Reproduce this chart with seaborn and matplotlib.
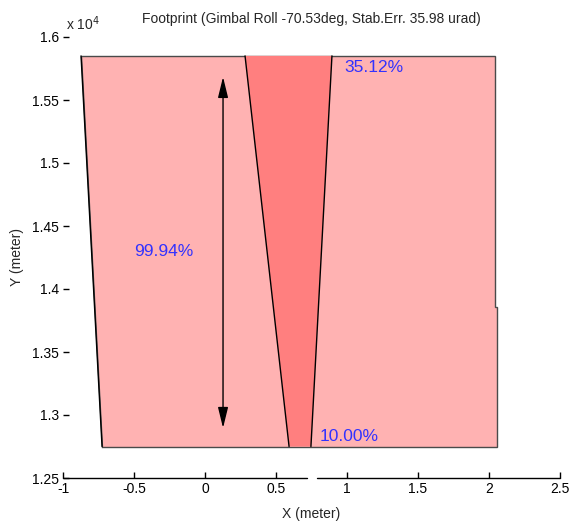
import matplotlib
matplotlib.use("Agg")
import matplotlib.pyplot as plt
import seaborn as sns
from matplotlib.ticker import FuncFormatter

sns.set_style("white")
plt.rcParams["font.family"] = ["Liberation Sans", "DejaVu Sans"]
plt.rcParams["xtick.direction"] = "in"
plt.rcParams["ytick.direction"] = "in"
plt.rcParams["xtick.bottom"] = True
plt.rcParams["ytick.left"] = True

# Footprint outline (X in meters, Y in meters)
footprint_x = [-0.873, 2.042, 2.042, 2.056, 2.056, -0.725]
footprint_y = [15850, 15850, 13857, 13857, 12750, 12750]

# Stabilisation-error band inside the footprint
band_x = [0.282, 0.894, 0.746, 0.592]
band_y = [15850, 15850, 12750, 12750]

# Dimension arrow spanning the footprint height
arrow_x = 0.127
arrow_y = [12897, 15683]

# Percent annotations: (x, y, text, horizontal alignment)
labels_x = [0.979, 0.81, -0.289]
labels_y = [15754, 12833, 14294]
labels_text = ["35.12%", "10.00%", "99.94%"]
labels_ha = ["left", "left", "center"]

x_ticks = [-1, -0.5, 0, 0.5, 1, 1.5, 2, 2.5]
y_ticks = [12500, 13000, 13500, 14000, 14500, 15000, 15500, 16000]

fig = plt.figure(figsize=(5.69, 5.24), dpi=100)
ax = fig.add_axes([63 / 569, 46 / 524, 497 / 569, 441 / 524])

ax.fill(footprint_x, footprint_y, facecolor="#FFB2B2", edgecolor="#4a4a4a", linewidth=1.0)
ax.fill(band_x, band_y, facecolor="#FF7F7F", edgecolor="none")
ax.plot([band_x[0], band_x[3]], [band_y[0], band_y[3]], color="black", linewidth=1.0)
ax.plot([band_x[1], band_x[2]], [band_y[1], band_y[2]], color="black", linewidth=1.0)
ax.plot(footprint_x[:1] + footprint_x[-1:], footprint_y[:1] + footprint_y[-1:], color="black", linewidth=1.0)

ax.annotate("", xy=(arrow_x, arrow_y[1]), xytext=(arrow_x, arrow_y[0]),
            arrowprops=dict(arrowstyle="<|-|>,head_length=0.9,head_width=0.22", color="black", lw=1.0,
                            mutation_scale=14, shrinkA=0, shrinkB=0))

for lx, ly, txt, ha in zip(labels_x, labels_y, labels_text, labels_ha):
    ax.text(lx, ly, txt, color="#3232FF", fontsize=12.5, ha=ha, va="center")

ax.set_xlim(-1, 2.5)
ax.set_ylim(12500, 16000)
ax.set_xticks(x_ticks)
ax.set_yticks(y_ticks)
ax.set_xticklabels([f"{t:g}" for t in x_ticks])
ax.yaxis.set_major_formatter(FuncFormatter(lambda v, p: f"{v / 1e4:g}"))

for side in ["top", "right", "left", "bottom"]:
    ax.spines[side].set_visible(False)

# Bottom axis line drawn in two pieces
ax.plot([-1, 0.718], [12500, 12500], color="black", linewidth=1.0, clip_on=False)
ax.plot([0.789, 2.5], [12500, 12500], color="black", linewidth=1.0, clip_on=False)

ax.tick_params(axis="both", direction="in", length=4, width=1, color="black",
               labelsize=10, labelcolor="black", bottom=True, left=True, pad=3)

ax.set_xlabel("X (meter)", fontsize=10, labelpad=8)
ax.set_ylabel("Y (meter)", fontsize=10, labelpad=6)
ax.set_title("Footprint (Gimbal Roll -70.53deg, Stab.Err. 35.98 urad)", fontsize=10, pad=10)

ax.text(0.006, 1.01, r"x 10$^4$", transform=ax.transAxes, fontsize=10, ha="left", va="bottom")

fig.savefig("out.png", dpi=100)
